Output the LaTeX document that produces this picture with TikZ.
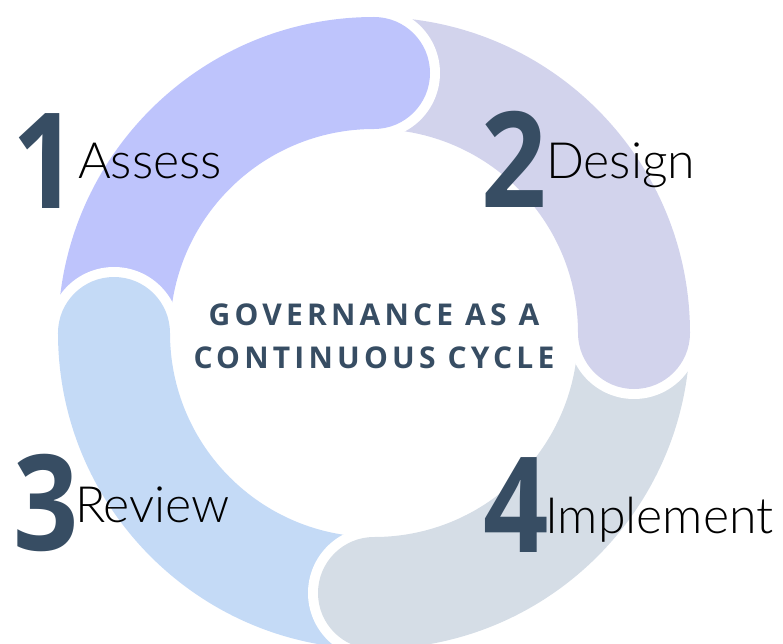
\documentclass[tikz,border=0pt]{standalone}
\usepackage{fontspec}
\setmainfont{Open Sans}
\newfontfamily\lightfont{Lato Light}
\newfontfamily\titlefont{Open Sans}[LetterSpace=14]
\definecolor{assesscol}{HTML}{BEC4FC}
\definecolor{designcol}{HTML}{D2D3EC}
\definecolor{implcol}{HTML}{D5DDE6}
\definecolor{reviewcol}{HTML}{C4DAF6}
\definecolor{ink}{HTML}{374D63}
\newcommand{\narrownum}[1]{\scalebox{0.86}[1]{#1}}
\begin{document}
\begin{tikzpicture}[x=1pt,y=1pt,
  numstyle/.style={anchor=base west,inner sep=0pt,text=ink,font=\fontsize{133}{133}\selectfont\bfseries},
  labstyle/.style={anchor=base west,inner sep=0pt,text=black,font=\fontsize{50}{50}\selectfont\lightfont},
  titlestyle/.style={anchor=base,inner sep=0pt,text=ink,font=\fontsize{30}{30}\selectfont\titlefont\bfseries}]
\useasboundingbox (-374,-310) rectangle (409,333);
% bands
\fill[assesscol] (180:316) arc[start angle=180,end angle=90,radius=316] -- (90:204) arc[start angle=90,end angle=180,radius=204] -- cycle;
\fill[designcol] (90:316) arc[start angle=90,end angle=0,radius=316] -- (0:204) arc[start angle=0,end angle=90,radius=204] -- cycle;
\fill[implcol] (0:316) arc[start angle=0,end angle=-90,radius=316] -- (-90:204) arc[start angle=-90,end angle=0,radius=204] -- cycle;
\fill[reviewcol] (-90:316) arc[start angle=-90,end angle=-180,radius=316] -- (-180:204) arc[start angle=-180,end angle=-90,radius=204] -- cycle;
% caps with white borders
\begin{scope}\clip (0,0) -- (90:600) -- (0:600) -- cycle; \fill[white] (90:260) circle (66); \end{scope}
\fill[assesscol] (90:260) circle (56);
\begin{scope}\clip (0,0) -- (0:600) -- (-90:600) -- cycle; \fill[white] (0:260) circle (66); \end{scope}
\fill[designcol] (0:260) circle (56);
\begin{scope}\clip (0,0) -- (-90:600) -- (-180:600) -- cycle; \fill[white] (-90:260) circle (66); \end{scope}
\fill[implcol] (-90:260) circle (56);
\begin{scope}\clip (0,0) -- (180:600) -- (90:600) -- cycle; \fill[white] (180:260) circle (66); \end{scope}
\fill[reviewcol] (180:260) circle (56);
% labels
\node[numstyle] (n1) at (-362,125) {\narrownum{1}};
\node[labstyle] (l1) at (-296,155) {Assess};
\node[numstyle] (n2) at (107,126) {\narrownum{2}};
\node[labstyle] (l2) at (172,155) {Design};
\node[numstyle] (n3) at (-361,-217) {\narrownum{3}};
\node[labstyle] (l3) at (-299,-189) {Review};
\node[numstyle] (n4) at (109,-219) {\narrownum{4}};
\node[labstyle] (l4) at (171,-200) {Implement};
\node[titlestyle] (t1) at (0,8) {GOVERNANCE AS A};
\node[titlestyle] (t2) at (0,-35) {CONTINUOUS CYCLE};
\end{tikzpicture}
\end{document}
